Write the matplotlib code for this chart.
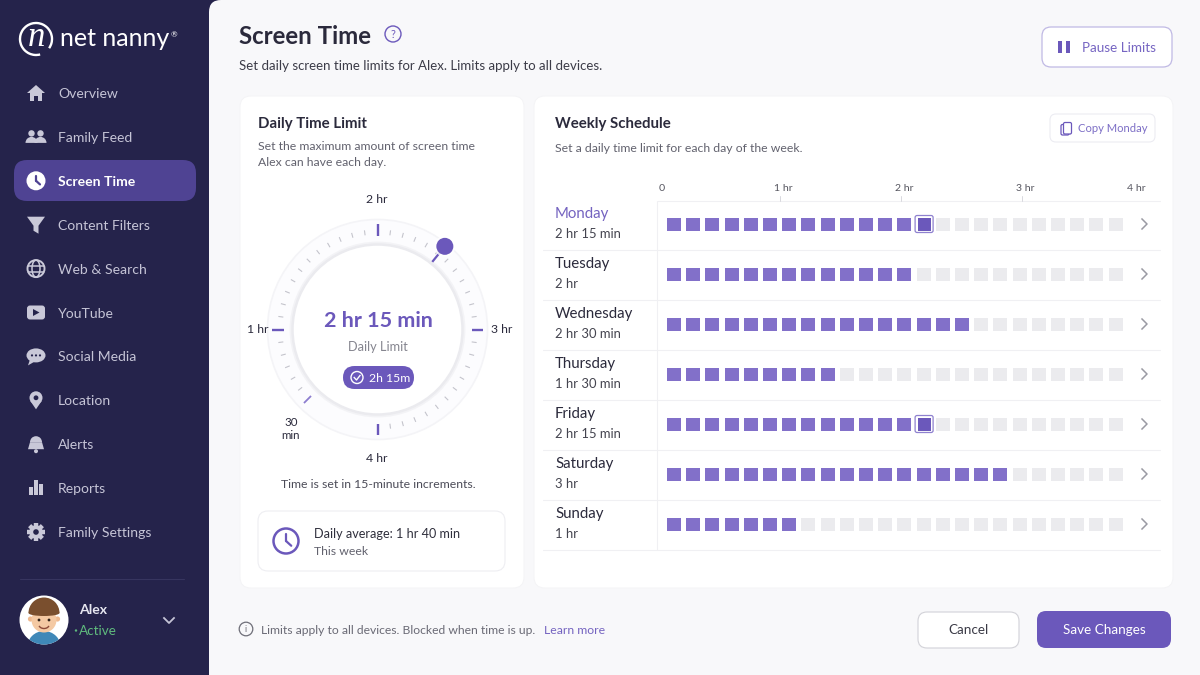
#!/usr/bin/env python3
"""Net Nanny screen time mockup, drawn in pixel coordinates."""
import numpy as np
import matplotlib
matplotlib.use('Agg')
import matplotlib.pyplot as plt
from matplotlib.patches import FancyBboxPatch, Circle, Polygon, Rectangle, Arc, Wedge, Ellipse

plt.rcParams['font.family'] = ['Lato', 'DejaVu Sans']

# ---- data ----
days = ["Monday", "Tuesday", "Wednesday", "Thursday", "Friday", "Saturday", "Sunday"]
day_limits = ["2 hr 15 min", "2 hr", "2 hr 30 min", "1 hr 30 min", "2 hr 15 min", "3 hr", "1 hr"]
filled_blocks = [14, 13, 16, 9, 14, 18, 7]
outlined_days = ["Monday", "Friday"]
total_blocks = 24
axis_labels = ["0", "1 hr", "2 hr", "3 hr", "4 hr"]
axis_label_x = [662, 783, 904, 1025, 1136]

nav_labels = ["Overview", "Family Feed", "Screen Time", "Content Filters", "Web & Search",
              "YouTube", "Social Media", "Location", "Alerts", "Reports", "Family Settings"]
nav_icons = ["home", "people", "clock", "funnel", "globe", "video", "chat", "pin", "bell", "bars", "gear"]
active_nav = "Screen Time"

knob_minutes = 146
dial_start = 30
dial_end = 240
dial_step = 5
dial_major = [60, 120, 180, 240]

# ---- colours ----
NAVY = '#25234b'
ACTIVE = '#4f4393'
PURPLE = '#6b58bb'
BLOCK = '#8270c9'
EMPTY = '#ebebee'
INK = '#2b2a3c'
GREY = '#62626e'
NAVTXT = '#c5c4d6'
LINE = '#f0f0f3'

fig = plt.figure(figsize=(12, 6.75), dpi=100)
ax = fig.add_axes([0, 0, 1, 1])
ax.set_xlim(0, 1200)
ax.set_ylim(675, 0)
ax.axis('off')


def txt(x, y, s, px=13, color=INK, ha='left', weight='normal', **kw):
    # va=center sits about a pixel high with Lato
    return ax.text(x, y + 1, s, fontsize=px * 0.72, color=color, ha=ha, va='center', fontweight=weight, **kw)


def rrect(x0, y0, x1, y1, r, fc='white', ec='none', lw=1.0, z=2):
    p = FancyBboxPatch((x0 + r, y0 + r), x1 - x0 - 2 * r, y1 - y0 - 2 * r,
                       boxstyle=f"round,pad={r},rounding_size={r}", fc=fc, ec=ec, lw=lw, zorder=z)
    ax.add_patch(p)
    return p


def seg(x0, y0, x1, y1, color, lw=1.0, z=4, cap='round'):
    ax.plot([x0, x1], [y0, y1], color=color, lw=lw, zorder=z, solid_capstyle=cap)


def clock_icon(x, y, r, ring, hand, lw=0):
    ax.add_patch(Circle((x, y), r, fc=ring if lw == 0 else 'none', ec=ring, lw=lw, zorder=5))
    seg(x, y - r * 0.55, x, y, hand, 1.6, 6)
    seg(x, y, x + r * 0.42, y + r * 0.38, hand, 1.6, 6)


def nav_icon(name, x, y, c):
    bg = ACTIVE if name == 'clock' else NAVY
    if name == 'home':
        ax.add_patch(Polygon([(x - 9, y), (x, y - 8), (x + 9, y), (x + 6, y), (x + 6, y + 8), (x + 2, y + 8),
                              (x + 2, y + 3), (x - 2, y + 3), (x - 2, y + 8), (x - 6, y + 8), (x - 6, y)],
                             fc=c, ec='none', zorder=5))
    elif name == 'people':
        for dx in (-4.5, 4.5):
            ax.add_patch(Circle((x + dx, y - 3.5), 3.2, fc=c, ec='none', zorder=5))
            ax.add_patch(Wedge((x + dx, y + 6), 6, 180, 360, fc=c, ec='none', zorder=5))
    elif name == 'clock':
        clock_icon(x, y, 9.5, 'white', ACTIVE)
    elif name == 'funnel':
        ax.add_patch(Polygon([(x - 9, y - 8), (x + 9, y - 8), (x + 2.5, y + 1), (x + 2.5, y + 9), (x - 2.5, y + 6),
                              (x - 2.5, y + 1)], fc=c, ec='none', zorder=5))
    elif name == 'globe':
        ax.add_patch(Circle((x, y), 8.5, fc='none', ec=c, lw=1.4, zorder=5))
        ax.add_patch(Ellipse((x, y), 8, 17, fc='none', ec=c, lw=1.1, zorder=5))
        seg(x - 8, y - 3, x + 8, y - 3, c, 1.1, 5)
        seg(x - 8, y + 3, x + 8, y + 3, c, 1.1, 5)
    elif name == 'video':
        rrect(x - 9, y - 7, x + 9, y + 7, 3, fc=c, z=5)
        ax.add_patch(Polygon([(x - 3, y - 3.5), (x - 3, y + 3.5), (x + 3.5, y)], fc=NAVY, ec='none', zorder=6))
    elif name == 'chat':
        ax.add_patch(Ellipse((x, y - 1), 19, 14, fc=c, ec='none', zorder=5))
        ax.add_patch(Polygon([(x - 6, y + 3), (x - 8, y + 9), (x - 1, y + 5)], fc=c, ec='none', zorder=5))
        for dx in (-4, 0, 4):
            ax.add_patch(Circle((x + dx, y - 1), 1.1, fc=NAVY, ec='none', zorder=6))
    elif name == 'pin':
        ax.add_patch(Circle((x, y - 2.5), 6.5, fc=c, ec='none', zorder=5))
        ax.add_patch(Polygon([(x - 5.8, y + 0.5), (x + 5.8, y + 0.5), (x, y + 9)], fc=c, ec='none', zorder=5))
        ax.add_patch(Circle((x, y - 2.5), 2.4, fc=NAVY, ec='none', zorder=6))
    elif name == 'bell':
        ax.add_patch(Wedge((x, y - 2), 6, 180, 360, fc=c, ec='none', zorder=5))
        ax.add_patch(Polygon([(x - 6, y - 2), (x + 6, y - 2), (x + 8, y + 5), (x - 8, y + 5)], fc=c, ec='none', zorder=5))
        ax.add_patch(Circle((x, y + 7), 2, fc=c, ec='none', zorder=5))
    elif name == 'bars':
        ax.add_patch(Rectangle((x - 7, y - 1), 3.6, 8, fc=c, zorder=5))
        ax.add_patch(Rectangle((x - 2, y - 8), 3.6, 15, fc=c, zorder=5))
        ax.add_patch(Rectangle((x + 3, y - 4), 3.6, 11, fc=c, zorder=5))
    elif name == 'gear':
        for a in np.arange(0, 180, 45):
            t = np.radians(a)
            seg(x - 9 * np.cos(t), y - 9 * np.sin(t), x + 9 * np.cos(t), y + 9 * np.sin(t), c, 3.2, 5, 'butt')
        ax.add_patch(Circle((x, y), 6.8, fc=c, ec='none', zorder=5))
        ax.add_patch(Circle((x, y), 2.8, fc=bg, ec='none', zorder=6))


# ---- backgrounds ----
ax.add_patch(Rectangle((0, 0), 1200, 675, fc=NAVY, ec='none', zorder=0))
rrect(209, 0, 1230, 720, 12, fc='#f8f8fa', z=1)

# ---- sidebar ----
ax.add_patch(Arc((36, 39), 32, 32, theta1=75, theta2=395, ec='white', lw=1.7, zorder=5))
ax.text(36, 37, 'n', fontsize=25, style='italic', family='Liberation Serif', color='white',
        ha='center', va='center', zorder=5)
txt(60, 38, "net nanny", 25, 'white', zorder=5)
txt(171, 34, "®", 8, 'white', zorder=5)

rrect(14, 160, 196, 201, 13, fc=ACTIVE)
for i, (lab, icon) in enumerate(zip(nav_labels, nav_icons)):
    y = 93 + i * 43.9
    is_active = lab == active_nav
    nav_icon(icon, 36, y, 'white' if is_active else '#c9c8d8')
    txt(58, y, lab, 14, 'white' if is_active else NAVTXT, weight='bold' if is_active else 'normal', zorder=5)

seg(20, 579, 184, 579, '#37355f', 0.8)
avatar = Circle((44, 620), 24.5, fc='white', ec='none', zorder=4)
ax.add_patch(avatar)
shirt = Wedge((44, 648), 17, 180, 360, fc='#3f88b8', ec='none', zorder=5)
ax.add_patch(shirt)
shirt.set_clip_path(avatar)
ax.add_patch(Circle((30.5, 619), 2.6, fc='#eeb98f', ec='none', zorder=6))
ax.add_patch(Circle((57.5, 619), 2.6, fc='#eeb98f', ec='none', zorder=6))
ax.add_patch(Ellipse((44, 620), 25, 25, fc='#f4c9a3', ec='none', zorder=6))
ax.add_patch(Wedge((44, 613), 15.5, 180, 360, fc='#7a4f2e', ec='none', zorder=7))
ax.add_patch(Ellipse((44, 613), 31, 6, fc='#7a4f2e', ec='none', zorder=7))
for dx in (-5, 5):
    ax.add_patch(Circle((44 + dx, 620), 1.4, fc='#33251c', ec='none', zorder=8))
ax.add_patch(Arc((44, 625), 10, 7, theta1=10, theta2=170, ec='#8c4a38', lw=1.0, zorder=8))
txt(79, 609, "Alex", 14, '#e6e6f0', weight='bold', zorder=5)
ax.add_patch(Circle((76, 630.5), 1.2, fc='#5fba7d', ec='none', zorder=5))
txt(79, 630, "Active", 13.5, '#5fba7d', zorder=5)
ax.plot([164, 169, 174], [618, 623, 618], color='#c5c4d6', lw=1.3, zorder=5)

# ---- header ----
txt(239, 35, "Screen Time", 24, INK, weight='bold', zorder=5)
ax.add_patch(Circle((393, 34), 8, fc='none', ec=PURPLE, lw=1.0, zorder=5))
txt(393, 33, "?", 11, PURPLE, ha='center', zorder=5)
txt(239, 65.5, "Set daily screen time limits for Alex. Limits apply to all devices.", 13.25, '#3c3c48', zorder=5)
rrect(1042, 27, 1172, 67, 9, fc='white', ec='#c0b9e4', lw=0.9)
ax.add_patch(Rectangle((1058, 41), 4, 12, fc=PURPLE, zorder=5))
ax.add_patch(Rectangle((1065.5, 41), 4, 12, fc=PURPLE, zorder=5))
txt(1082, 47, "Pause Limits", 13.5, '#7665c2', zorder=5)

# ---- cards ----
rrect(240, 96, 524, 588, 11, fc='white', ec='#f4f4f6', lw=0.7)
rrect(534, 96, 1173, 588, 11, fc='white', ec='#f4f4f6', lw=0.7)

# ---- left card ----
txt(258, 123, "Daily Time Limit", 15, INK, weight='bold', zorder=5)
txt(258, 145.5, "Set the maximum amount of screen time", 12.2, GREY, zorder=5)
txt(258, 161, "Alex can have each day.", 12.2, GREY, zorder=5)

cx, cy = 377.5, 329.5
ax.add_patch(Circle((cx, cy), 110, fc='#fcfcfe', ec='#f4f4f7', lw=1.2, zorder=3))
ax.add_patch(Circle((cx, cy), 86.5, fc='none', ec='#f3f3f6', lw=2.0, zorder=4))
ax.add_patch(Circle((cx, cy), 85, fc='white', ec='#ebebef', lw=1.8, zorder=4))


def dial_xy(minutes, r):
    # 0 at the bottom, running clockwise
    t = np.radians(minutes / 240 * 360)
    return cx - r * np.sin(t), cy + r * np.cos(t)


for m in range(dial_start, dial_end + 1, dial_step):
    if m in dial_major:
        x0, y0 = dial_xy(m, 94)
        x1, y1 = dial_xy(m, 105.5)
        seg(x0, y0, x1, y1, PURPLE, 1.7, 5, 'butt')
    elif m == dial_start:
        x0, y0 = dial_xy(m, 94)
        x1, y1 = dial_xy(m, 104)
        seg(x0, y0, x1, y1, '#8d7dcf', 1.3, 5, 'butt')
    else:
        x0, y0 = dial_xy(m, 95)
        x1, y1 = dial_xy(m, 100)
        seg(x0, y0, x1, y1, '#c4c4cc', 0.8, 5, 'butt')

kx0, ky0 = dial_xy(knob_minutes, 87)
kx1, ky1 = dial_xy(knob_minutes, 107)
seg(kx0, ky0, kx1, ky1, PURPLE, 1.6, 6, 'butt')
ax.add_patch(Circle((kx1, ky1), 10.5, fc='white', ec='none', alpha=0.8, zorder=6))
ax.add_patch(Circle((kx1, ky1), 8.5, fc=PURPLE, ec='none', zorder=7))

txt(377, 198.5, "2 hr", 12.2, INK, ha='center', zorder=5)
txt(258, 328.5, "1 hr", 12.2, INK, ha='center', zorder=5)
txt(502, 328.5, "3 hr", 12.2, INK, ha='center', zorder=5)
txt(377, 457.5, "4 hr", 12.2, INK, ha='center', zorder=5)
txt(291, 421.5, "30", 11.5, INK, ha='center', zorder=5)
txt(291, 434.5, "min", 11.5, INK, ha='center', zorder=5)

txt(378, 320, "2 hr 15 min", 21.5, PURPLE, ha='center', weight='bold', zorder=5)
txt(378, 346, "Daily Limit", 12.8, '#85858f', ha='center', zorder=5)
rrect(343, 366, 414, 389, 11.5, fc=PURPLE, z=5)
ax.add_patch(Circle((357, 377.5), 6, fc='none', ec='white', lw=1.0, zorder=6))
ax.plot([354.2, 356.5, 360], [377.5, 380, 375.5], color='white', lw=1.0, zorder=6)
txt(369, 377, "2h 15m", 12.2, 'white', zorder=6)
txt(378, 483.5, "Time is set in 15-minute increments.", 12.3, '#4c4c58', ha='center', zorder=5)

rrect(258, 511, 505, 571, 10, fc='white', ec='#eeeef2', lw=0.8, z=3)
clock_icon(286, 541, 12.5, PURPLE, PURPLE, lw=1.8)
txt(314, 533.5, "Daily average: 1 hr 40 min", 12.6, '#2f2f3c', zorder=5)
txt(314, 550.5, "This week", 12.2, GREY, zorder=5)

# ---- weekly schedule ----
txt(555, 123, "Weekly Schedule", 15, INK, weight='bold', zorder=5)
txt(555, 147.5, "Set a daily time limit for each day of the week.", 12.2, GREY, zorder=5)
rrect(1050, 114, 1155, 142, 6, fc='white', ec='#ececf2', lw=0.8, z=3)
rrect(1063.5, 122.5, 1071.5, 134, 1.5, fc='white', ec=PURPLE, lw=0.9, z=5)
rrect(1061, 124.5, 1069, 135, 1.5, fc='white', ec=PURPLE, lw=0.9, z=4)
txt(1078, 128, "Copy Monday", 11.3, '#7d6fc6', zorder=5)

for lab, x in zip(axis_labels, axis_label_x):
    txt(x, 187.5, lab, 10.5, '#55555f', ha='center', zorder=5)
seg(658, 201, 1160, 201, LINE, 0.8, 3)
seg(657, 201, 657, 549, LINE, 0.8, 3)
for tx in (780, 901, 1022):
    seg(tx, 196, tx, 201, '#d8d8de', 0.7, 3)

block_x0 = 667
block_pitch = 19.2
block_size = 14
for i, (day, lim, n) in enumerate(zip(days, day_limits, filled_blocks)):
    yc = 224 + i * 50
    is_first = day == days[0]
    txt(555, yc - 11, day, 15, '#7463c0' if is_first else INK, zorder=5)
    txt(555, yc + 8.5, lim, 13, '#44444f', zorder=5)
    seg(543, yc + 25.5, 1160, yc + 25.5, LINE, 0.8, 3)
    for b in range(total_blocks):
        x = block_x0 + b * block_pitch
        fc = BLOCK if b < n else EMPTY
        if day in outlined_days and b == n - 1:
            rrect(x - 1.5, yc - 8.5, x + block_size + 2.5, yc + 8.5, 2, fc='white', ec='#8f81cf', lw=0.9, z=4)
            ax.add_patch(Rectangle((x + 1, yc - 6.5), block_size - 1, 13, fc=PURPLE, ec='none', zorder=5))
        else:
            ax.add_patch(Rectangle((x, yc - 6.5), block_size, 13, fc=fc, ec='none', zorder=5))
    ax.plot([1142, 1147, 1142], [yc - 5, yc, yc + 5], color='#9a9aa3', lw=1.1, zorder=5)

# ---- footer ----
ax.add_patch(Circle((246, 629), 6.8, fc='none', ec='#6e6e78', lw=0.9, zorder=5))
txt(246, 628, "i", 9, '#6e6e78', ha='center', zorder=5)
txt(261, 629, "Limits apply to all devices. Blocked when time is up.", 12.15, '#6a6a75', zorder=5)
txt(544, 629, "Learn more", 12.2, '#7463c0', zorder=5)
rrect(918, 612, 1019, 648, 9, fc='white', ec='#d2d2d8', lw=0.8)
txt(968.5, 629.5, "Cancel", 13.5, '#3a3a46', ha='center', zorder=5)
rrect(1037, 611, 1171, 648, 9, fc=PURPLE)
txt(1104, 629.5, "Save Changes", 13.5, 'white', ha='center', zorder=5)

fig.savefig("out.png", dpi=100)
plt.close(fig)
